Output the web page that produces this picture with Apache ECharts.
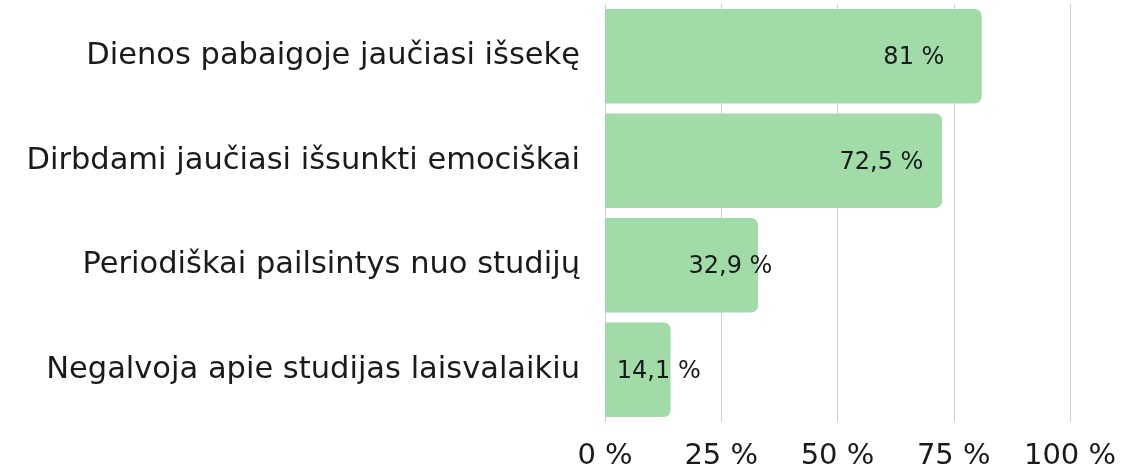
<!DOCTYPE html>
<html><head><meta charset="utf-8">
<script src="https://cdn.jsdelivr.net/npm/echarts@6/dist/echarts.min.js"></script>
<style>html,body{margin:0;padding:0;background:#fff}#c{width:1134px;height:468px}</style>
</head><body><div id="c"></div>
<script>
const categories = ["Dienos pabaigoje jaučiasi išsekę","Dirbdami jaučiasi išsunkti emociškai","Periodiškai pailsintys nuo studijų","Negalvoja apie studijas laisvalaikiu"];
const values = [81, 72.5, 32.9, 14.1];
const tickValues = [0, 25, 50, 75, 100];
const FONT = "'DejaVu Sans', sans-serif";
const chart = echarts.init(document.getElementById('c'));
chart.setOption({
  animation:false,
  grid:{left:605, right:64, top:4, bottom:46, containLabel:false, outerBoundsMode:'none'},
  xAxis:{type:'value', min:0, max:100, interval:25,
    axisLine:{show:false}, axisTick:{show:false},
    splitLine:{show:true, lineStyle:{color:'#d0d0d0', width:1}},
    axisLabel:{formatter:v=>v+' %', fontSize:29, color:'#1a1a1a', fontFamily:FONT, margin:20}},
  yAxis:{type:'category', data:categories, inverse:true,
    axisLine:{show:false}, axisTick:{show:false},
    axisLabel:{fontSize:30.5, color:'#1a1a1a', fontFamily:FONT, margin:25, padding:[0,0,4,0]}},
  series:[{type:'bar', data:values, barCategoryGap:'9.5%',
    itemStyle:{color:'#a0dba8', borderRadius:[0,7,7,0]},
    label:{show:true, position:['82%','50%'], align:'center', verticalAlign:'middle', offset:[0,2],
      formatter:p=>String(p.value).replace('.',',')+' %', fontSize:24, color:'#1a1a1a', fontFamily:FONT}}]
});
</script></body></html>
